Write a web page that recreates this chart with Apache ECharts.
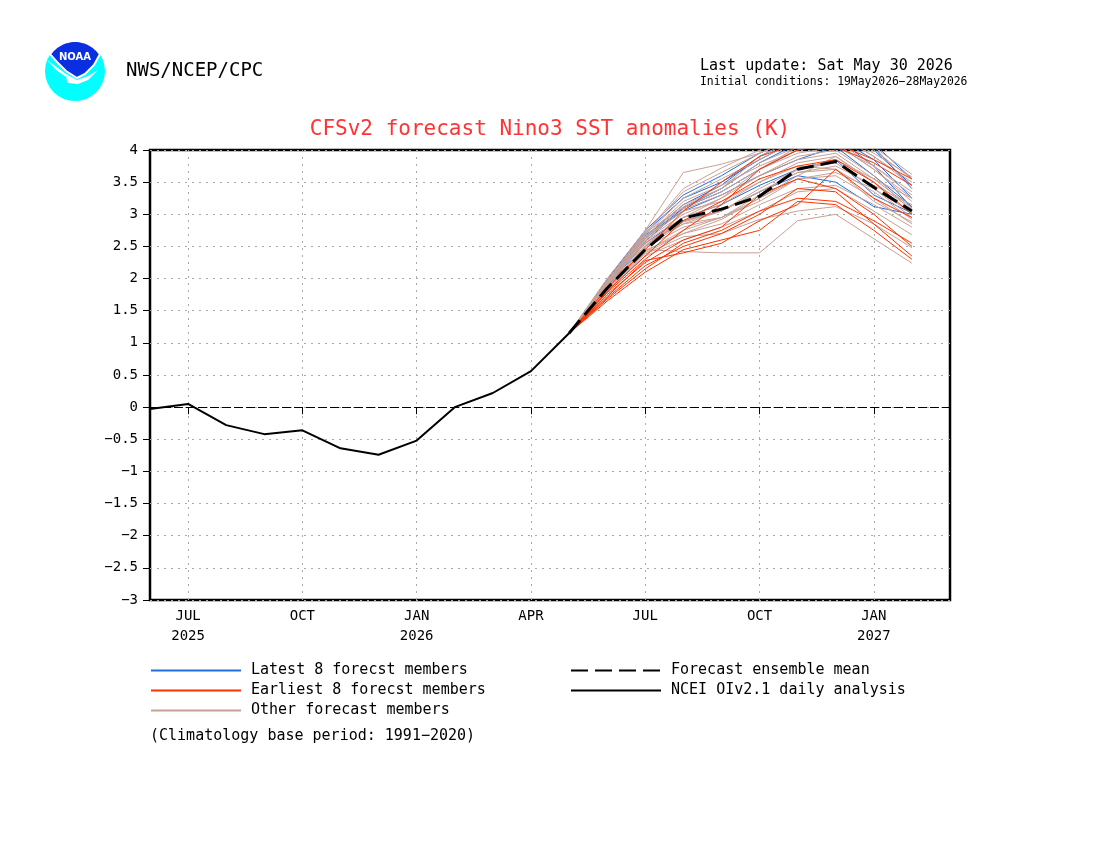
<!DOCTYPE html>
<html>
<head>
<meta charset="utf-8">
<script src="https://cdn.jsdelivr.net/npm/echarts@6/dist/echarts.min.js"></script>
<style>
  html, body { margin: 0; padding: 0; background: #fff; }
  #chart { width: 1100px; height: 850px; }
</style>
</head>
<body>
<div id="chart"></div>
<script>
// months on the x axis, Jun 2025 .. Mar 2027
const months = [
  'Jun 2025', 'Jul 2025', 'Aug 2025', 'Sep 2025', 'Oct 2025', 'Nov 2025', 'Dec 2025',
  'Jan 2026', 'Feb 2026', 'Mar 2026', 'Apr 2026', 'May 2026', 'Jun 2026', 'Jul 2026',
  'Aug 2026', 'Sep 2026', 'Oct 2026', 'Nov 2026', 'Dec 2026', 'Jan 2027', 'Feb 2027', 'Mar 2027'
]
const tickLabels = [
  '', 'JUL\n2025', '', '', 'OCT', '', '', 'JAN\n2026', '', '', 'APR', '', '', 'JUL',
  '', '', 'OCT', '', '', 'JAN\n2027', '', ''
]
const yTicks = [-3, -2.5, -2, -1.5, -1, -0.5, 0, 0.5, 1, 1.5, 2, 2.5, 3, 3.5, 4]

// observed analysis Jun 2025 .. May 2026
const observed = [-0.03, 0.05, -0.28, -0.42, -0.36, -0.64, -0.74, -0.52, 0.0, 0.22, 0.56, 1.15]

// forecasts May 2026 .. Feb 2027
const forecastStart = 11
const ensembleMean = [1.15, 1.85, 2.45, 2.94, 3.08, 3.28, 3.70, 3.82, 3.42, 3.05]

const latestMembers = [
  [1.15, 1.95, 2.72, 3.25, 3.50, 3.85, 4.15, 4.30, 4.05, 3.40],
  [1.15, 1.92, 2.62, 3.10, 3.35, 3.70, 4.00, 4.20, 3.75, 3.10],
  [1.15, 1.98, 2.75, 3.30, 3.60, 3.95, 4.20, 4.35, 4.10, 3.55],
  [1.15, 1.88, 2.55, 2.95, 3.15, 3.45, 3.70, 3.85, 3.30, 3.02],
  [1.15, 1.90, 2.58, 3.10, 3.40, 3.80, 4.10, 4.20, 3.85, 3.25],
  [1.15, 1.85, 2.50, 2.90, 3.05, 3.35, 3.60, 3.50, 3.12, 3.00],
  [1.15, 1.93, 2.65, 3.15, 3.45, 3.90, 4.20, 4.40, 4.00, 3.45],
  [1.15, 1.95, 2.68, 3.05, 3.30, 3.60, 3.85, 4.05, 3.60, 3.12]
]

const earliestMembers = [
  [1.15, 1.65, 2.10, 2.45, 2.60, 2.75, 3.20, 3.15, 2.75, 2.30],
  [1.15, 1.70, 2.20, 2.50, 2.70, 3.00, 3.40, 3.35, 2.85, 2.35],
  [1.15, 1.75, 2.25, 2.60, 2.80, 3.30, 3.55, 3.40, 3.00, 2.50],
  [1.15, 1.80, 2.35, 2.90, 3.20, 3.55, 3.75, 3.85, 3.50, 3.00],
  [1.15, 1.85, 2.45, 3.05, 3.50, 3.90, 4.10, 4.05, 3.80, 3.45],
  [1.15, 1.68, 2.15, 2.55, 2.75, 3.05, 3.25, 3.20, 2.90, 2.55],
  [1.15, 1.78, 2.30, 2.75, 3.15, 3.70, 4.00, 4.10, 3.85, 3.55],
  [1.15, 1.72, 2.28, 2.40, 2.55, 2.90, 3.15, 3.70, 3.25, 2.95]
]

const otherMembers = [
  [1.15, 2.00, 2.75, 3.65, 3.78, 3.95, 4.20, 4.25, 3.95, 3.58],
  [1.15, 1.90, 2.55, 2.85, 3.05, 3.40, 3.70, 3.80, 3.40, 2.95],
  [1.15, 1.85, 2.45, 2.42, 2.40, 2.40, 2.90, 3.00, 2.62, 2.24],
  [1.15, 1.95, 2.65, 3.20, 3.45, 3.75, 4.00, 4.10, 3.70, 3.25],
  [1.15, 1.88, 2.60, 3.00, 3.25, 3.60, 3.85, 3.95, 3.55, 3.10],
  [1.15, 1.92, 2.70, 3.35, 3.65, 3.95, 4.20, 4.25, 3.90, 3.45],
  [1.15, 1.80, 2.40, 2.70, 2.85, 3.15, 3.40, 3.45, 3.15, 2.80],
  [1.15, 1.97, 2.72, 3.10, 3.35, 3.70, 3.95, 4.05, 3.75, 3.35],
  [1.15, 1.83, 2.50, 2.95, 3.25, 3.70, 4.05, 4.15, 3.75, 3.30],
  [1.15, 1.90, 2.62, 3.05, 3.20, 3.50, 3.80, 3.90, 3.50, 3.00],
  [1.15, 1.87, 2.48, 2.80, 2.95, 3.25, 3.55, 3.60, 3.25, 2.85],
  [1.15, 1.94, 2.68, 3.25, 3.55, 3.85, 4.15, 4.30, 4.05, 3.62],
  [1.15, 1.82, 2.35, 2.60, 2.80, 3.05, 3.35, 3.40, 3.05, 2.68],
  [1.15, 1.90, 2.58, 2.95, 3.15, 3.50, 3.75, 3.70, 3.35, 2.92],
  [1.15, 1.86, 2.52, 2.90, 3.05, 3.35, 3.65, 3.75, 3.45, 3.15],
  [1.15, 1.96, 2.66, 3.15, 3.40, 3.80, 4.05, 4.10, 3.70, 3.20],
  [1.15, 1.84, 2.42, 2.75, 2.95, 3.30, 3.70, 3.85, 3.55, 3.25],
  [1.15, 1.91, 2.63, 3.08, 3.30, 3.60, 3.90, 4.00, 3.60, 3.05],
  [1.15, 1.79, 2.38, 2.65, 2.70, 2.92, 3.05, 3.12, 2.85, 2.48],
  [1.15, 1.93, 2.64, 3.12, 3.40, 3.90, 4.20, 4.25, 3.90, 3.50],
  [1.15, 1.89, 2.56, 2.88, 3.05, 3.35, 3.65, 3.70, 3.20, 2.88],
  [1.15, 1.95, 2.70, 3.40, 3.72, 4.00, 4.25, 4.35, 4.00, 3.55],
  [1.15, 1.86, 2.50, 2.85, 2.95, 3.20, 3.55, 3.65, 3.40, 3.02],
  [1.15, 1.81, 2.44, 2.70, 2.92, 3.25, 3.60, 3.90, 3.50, 3.08]
]

const FONT = "'DejaVu Sans Mono', monospace"
const BLUE = '#1f6fe0'
const RED = '#ff3300'
const ROSY = '#c9a095'

// put forecast values on the month axis
const pad = (vals) => months.map((m, i) => {
  const k = i - forecastStart
  return k >= 0 && k < vals.length ? vals[k] : null
})

const memberSeries = (list, name, color) => list.map((vals) => ({
  name: name,
  type: 'line',
  data: pad(vals),
  symbol: 'none',
  silent: true,
  lineStyle: { color: color, width: 1 },
  itemStyle: { color: color },
}))

// noaa logo shapes
const logoArc = []
for (let a = 214; a <= 326; a += 4) {
  const r = (a * Math.PI) / 180
  logoArc.push([75 + 30 * Math.cos(r), 71 + 30 * Math.sin(r)])
}
const logoShield = logoArc.concat([[94, 65], [85, 74], [77, 78], [66, 71], [57, 62]])

const legendBase = {
  orient: 'vertical',
  top: 663,
  padding: 0,
  itemWidth: 90,
  itemHeight: 10,
  itemGap: 5,
  selectedMode: false,
  itemStyle: { opacity: 0 },
  textStyle: { fontFamily: FONT, fontSize: 15, color: '#000', padding: [0, 0, 0, 5] },
}

const myChart = echarts.init(document.getElementById('chart'))

const options = {
  backgroundColor: '#fff',
  animation: false,
  title: {
    text: 'CFSv2 forecast Nino3 SST anomalies (K)',
    left: 'center',
    top: 114,
    textStyle: { fontFamily: FONT, fontSize: 21, fontWeight: 'normal', color: '#ff3333' },
  },
  grid: {
    left: 150,
    right: 150,
    top: 150,
    bottom: 250,
    show: true,
    borderColor: '#000',
    borderWidth: 2.5,
  },
  legend: [
    {
      ...legendBase,
      left: 150,
      data: ['Latest 8 forecst members', 'Earliest 8 forecst members', 'Other forecast members'],
    },
    {
      ...legendBase,
      left: 570,
      data: ['Forecast ensemble mean', 'NCEI OIv2.1 daily analysis'],
    },
  ],
  xAxis: {
    type: 'category',
    data: months,
    boundaryGap: false,
    axisLine: { show: false },
    axisTick: {
      show: true,
      inside: false,
      length: 7,
      interval: (i) => tickLabels[i] !== '',
      lineStyle: { color: '#000', width: 1 },
    },
    axisLabel: {
      interval: 0,
      margin: 6,
      fontFamily: FONT,
      fontSize: 14,
      lineHeight: 20,
      color: '#000',
      formatter: (v, i) => tickLabels[i],
    },
    splitLine: {
      show: true,
      interval: (i) => tickLabels[i] !== '',
      lineStyle: { color: '#aaa', type: [2, 5], width: 1 },
    },
  },
  yAxis: {
    type: 'value',
    min: yTicks[0],
    max: yTicks[yTicks.length - 1],
    interval: 0.5,
    axisLine: { show: false },
    axisTick: { show: true, length: 7, lineStyle: { color: '#000', width: 1 } },
    axisLabel: {
      margin: 12,
      fontFamily: FONT,
      fontSize: 14,
      color: '#000',
      formatter: (v) => String(v).replace('-', '\u2212'),
    },
    splitLine: {
      show: true,
      lineStyle: { color: '#aaa', type: [2, 5], width: 1 },
    },
  },
  series: [
    ...memberSeries(latestMembers, 'Latest 8 forecst members', BLUE),
    ...memberSeries(otherMembers, 'Other forecast members', ROSY),
    ...memberSeries(earliestMembers, 'Earliest 8 forecst members', RED),
    {
      name: 'Forecast ensemble mean',
      type: 'line',
      data: pad(ensembleMean),
      symbol: 'none',
      silent: true,
      lineStyle: { color: '#000', width: 3, type: [17, 7] },
      itemStyle: { color: '#000' },
    },
    {
      name: 'NCEI OIv2.1 daily analysis',
      type: 'line',
      data: observed,
      symbol: 'none',
      silent: true,
      lineStyle: { color: '#000', width: 2 },
      itemStyle: { color: '#000' },
      markLine: {
        silent: true,
        symbol: 'none',
        label: { show: false },
        lineStyle: { color: '#000', width: 1, type: [9, 3] },
        data: [{ yAxis: 0 }],
      },
    },
  ],
  graphic: [
    { type: 'circle', shape: { cx: 75, cy: 71, r: 30 }, style: { fill: '#00ffff' } },
    {
      type: 'polygon',
      shape: { points: [[47, 60], [56, 70], [66, 77], [68, 83], [78, 84], [88, 80], [98, 70], [88, 76], [77, 80], [66, 74]] },
      style: { fill: '#fff' },
    },
    {
      type: 'polygon',
      shape: { points: logoShield },
      style: { fill: '#0a2fe0', stroke: '#fff', lineWidth: 2 },
    },
    {
      type: 'text',
      x: 75,
      y: 57,
      style: {
        text: 'NOAA', fontFamily: "'DejaVu Sans'", fontWeight: 'bold', fontSize: 10,
        fill: '#fff', align: 'center', verticalAlign: 'middle',
      },
    },
    {
      type: 'text',
      x: 126,
      y: 71,
      style: { text: 'NWS/NCEP/CPC', fontFamily: FONT, fontSize: 19, fill: '#000', verticalAlign: 'middle' },
    },
    {
      type: 'text',
      x: 700,
      y: 66,
      style: { text: 'Last update: Sat May 30 2026', fontFamily: FONT, fontSize: 15, fill: '#000', verticalAlign: 'middle' },
    },
    {
      type: 'text',
      x: 700,
      y: 82,
      style: { text: 'Initial conditions: 19May2026\u221228May2026', fontFamily: FONT, fontSize: 11.4, fill: '#000', verticalAlign: 'middle' },
    },
    {
      type: 'text',
      x: 150,
      y: 736,
      style: { text: '(Climatology base period: 1991\u22122020)', fontFamily: FONT, fontSize: 15, fill: '#000', verticalAlign: 'middle' },
    },
  ],
}

myChart.setOption(options)
</script>
</body>
</html>
